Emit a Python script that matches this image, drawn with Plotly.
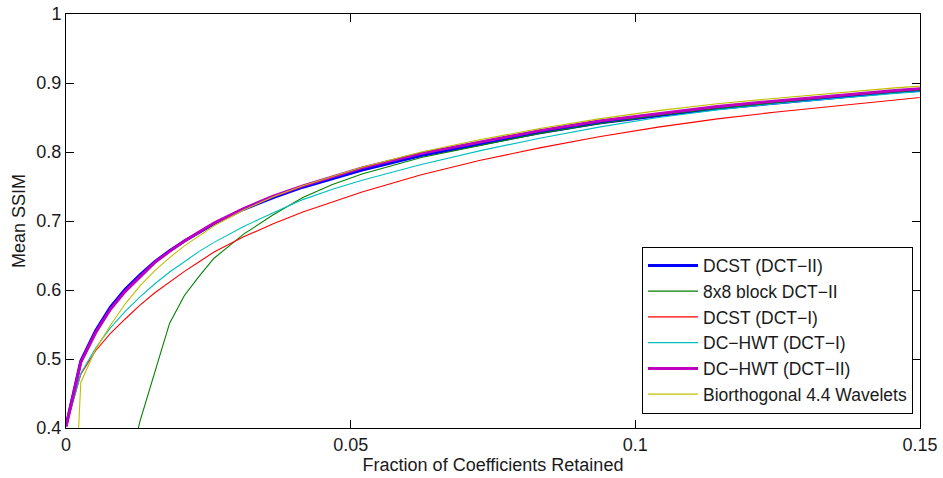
import plotly.graph_objects as go

# Fraction of transform coefficients kept
fraction = [0, 0.0026, 0.0052, 0.0078, 0.0104, 0.013, 0.0156, 0.0182, 0.0208,
            0.0234, 0.026, 0.0312, 0.0364, 0.0416, 0.0468, 0.052, 0.0624,
            0.0728, 0.0832, 0.0936, 0.104, 0.1144, 0.1248, 0.1352, 0.1456, 0.156]

# Mean SSIM for each transform
dcst_dct2 = [0.403, 0.497, 0.541, 0.575, 0.601, 0.622, 0.641, 0.657, 0.671,
             0.684, 0.696, 0.717, 0.734, 0.749, 0.762, 0.774, 0.795,
             0.812, 0.828, 0.842, 0.853, 0.863, 0.871, 0.879, 0.887, 0.893]
block_dct2 = [0.02, 0.10, 0.17, 0.24, 0.32, 0.41, 0.481, 0.552, 0.592,
              0.620, 0.646, 0.681, 0.709, 0.734, 0.753, 0.768, 0.792,
              0.810, 0.827, 0.841, 0.853, 0.863, 0.872, 0.880, 0.887, 0.893]
dcst_dct1 = [0.402, 0.478, 0.512, 0.537, 0.558, 0.578, 0.596, 0.612, 0.627,
             0.641, 0.655, 0.677, 0.696, 0.713, 0.728, 0.742, 0.767,
             0.788, 0.806, 0.822, 0.836, 0.848, 0.858, 0.867, 0.876, 0.884]
dchwt_dct1 = [0.402, 0.479, 0.516, 0.545, 0.569, 0.590, 0.609, 0.626, 0.641,
              0.656, 0.669, 0.692, 0.712, 0.731, 0.746, 0.759, 0.782,
              0.802, 0.820, 0.836, 0.850, 0.861, 0.870, 0.878, 0.885, 0.891]
dchwt_dct2 = [0.402, 0.495, 0.538, 0.572, 0.598, 0.619, 0.640, 0.656, 0.671,
              0.684, 0.697, 0.718, 0.736, 0.751, 0.764, 0.777, 0.798,
              0.815, 0.831, 0.845, 0.856, 0.866, 0.874, 0.882, 0.889, 0.895]
bior44 = [0.02, 0.466, 0.514, 0.549, 0.580, 0.606, 0.628, 0.647, 0.664,
          0.678, 0.693, 0.716, 0.735, 0.751, 0.765, 0.778, 0.800,
          0.818, 0.834, 0.848, 0.860, 0.870, 0.878, 0.886, 0.893, 0.899]

series = [
    ("DCST (DCT\u2212II)", dcst_dct2, "#0000FF", 3),
    ("8x8 block DCT\u2212II", block_dct2, "#008000", 1.1),
    ("DCST (DCT\u2212I)", dcst_dct1, "#FF0000", 1.1),
    ("DC\u2212HWT (DCT\u2212I)", dchwt_dct1, "#00BFBF", 1.1),
    ("DC\u2212HWT (DCT\u2212II)", dchwt_dct2, "#BF00BF", 3),
    ("Biorthogonal 4.4 Wavelets", bior44, "#BFBF00", 1.1),
]

font_family = "Liberation Sans, Arial, Helvetica, sans-serif"

fig = go.Figure()
for name, values, color, width in series:
    fig.add_trace(go.Scatter(
        x=fraction, y=values, mode="lines", name=name,
        line=dict(color=color, width=width),
    ))

axis_common = dict(
    showline=True, linecolor="black", linewidth=1, mirror="ticks",
    ticks="inside", ticklen=8, tickcolor="black", tickwidth=1,
    showgrid=False, zeroline=False, automargin=False,
    tickfont=dict(family=font_family, size=18, color="#1a1a1a"),
)

fig.update_layout(
    width=943, height=478,
    margin=dict(l=66, r=23, t=14, b=50),
    paper_bgcolor="white", plot_bgcolor="white",
    font=dict(family=font_family, size=18, color="#1a1a1a"),
    xaxis=dict(range=[0, 0.15], tickvals=[0, 0.05, 0.1, 0.15],
               ticktext=["0", "0.05", "0.1", "0.15"],
               title=dict(text="Fraction of Coefficients Retained",
                          font=dict(size=18), standoff=0),
               **axis_common),
    yaxis=dict(range=[0.4, 1], tickvals=[0.4, 0.5, 0.6, 0.7, 0.8, 0.9, 1],
               ticktext=["0.4", "0.5", "0.6", "0.7", "0.8", "0.9", "1"],
               title=dict(text="Mean SSIM", font=dict(size=18), standoff=6),
               **axis_common),
    legend=dict(
        x=0.9918, y=0.035, xanchor="right", yanchor="bottom",
        bgcolor="white", bordercolor="black", borderwidth=1,
        font=dict(family=font_family, size=17.5, color="#1a1a1a"),
        itemwidth=50, entrywidth=306, entrywidthmode="pixels",
    ),
    showlegend=True,
)

fig.write_html("out.html")
